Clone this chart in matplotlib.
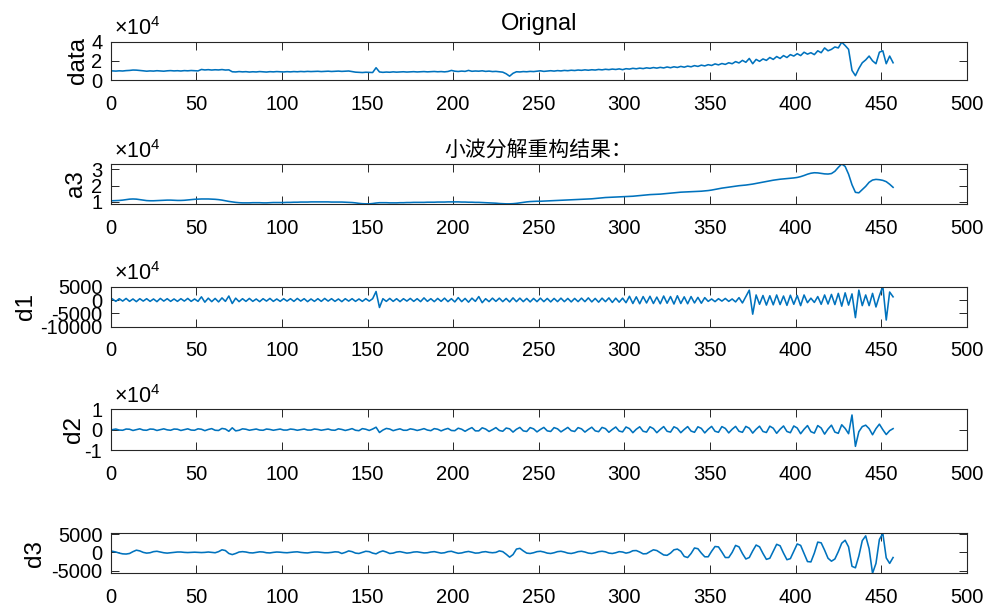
import numpy as np
import matplotlib
matplotlib.use("Agg")
import matplotlib.pyplot as plt

plt.rcParams['font.family'] = ['Liberation Sans', 'Noto Sans CJK SC', 'DejaVu Sans']
plt.rcParams['axes.unicode_minus'] = False
plt.rcParams['mathtext.default'] = 'regular'

# sample positions (every second sample of the 457-point signal)
sample_idx = list(range(1, 458, 2))

# original signal, units of 1e4
data_e4 = [
    0.95, 0.93, 0.96, 0.94, 0.98, 1.00, 1.04, 1.03, 1.00, 0.96,
    0.92, 0.95, 0.93, 0.97, 0.94, 0.92, 0.96, 0.98, 0.95, 0.97,
    0.94, 0.98, 0.96, 0.99, 0.97, 0.95, 1.10, 1.05, 1.08, 1.04,
    1.07, 1.05, 1.09, 1.04, 1.06, 0.86, 0.84, 0.88, 0.85, 0.87,
    0.83, 0.86, 0.84, 0.88, 0.85, 0.83, 0.87, 0.85, 0.88, 0.86,
    0.84, 0.87, 0.85, 0.88, 0.86, 0.89, 0.87, 0.90, 0.88, 0.89,
    0.91, 0.88, 0.90, 0.92, 0.89, 0.91, 0.93, 0.90, 0.92, 0.94,
    0.88, 0.82, 0.80, 0.78, 0.81, 0.79, 0.78, 1.28, 0.84, 0.80,
    0.83, 0.81, 0.85, 0.82, 0.84, 0.86, 0.83, 0.85, 0.87, 0.84,
    0.86, 0.88, 0.85, 0.87, 0.89, 0.86, 0.88, 0.85, 0.89, 1.00,
    0.92, 0.89, 0.93, 0.90, 1.00, 0.91, 0.94, 0.92, 0.96, 0.90,
    0.93, 0.88, 0.90, 0.86, 0.82, 0.65, 0.40, 0.70, 0.86, 0.84,
    0.88, 0.86, 0.90, 0.88, 0.92, 0.96, 0.90, 0.94, 0.97, 0.93,
    0.98, 0.95, 1.00, 0.97, 1.02, 0.99, 1.04, 1.01, 1.06, 1.02,
    1.07, 1.04, 1.10, 1.06, 1.12, 1.08, 1.14, 1.10, 1.16, 1.08,
    1.18, 1.14, 1.22, 1.17, 1.24, 1.19, 1.27, 1.22, 1.30, 1.24,
    1.32, 1.26, 1.36, 1.28, 1.38, 1.31, 1.42, 1.34, 1.45, 1.38,
    1.50, 1.42, 1.55, 1.47, 1.60, 1.52, 1.68, 1.58, 1.72, 1.63,
    1.80, 1.70, 1.92, 1.78, 2.05, 1.85, 2.25, 1.70, 2.15, 1.95,
    2.20, 2.05, 2.35, 2.15, 2.45, 2.25, 2.55, 2.35, 2.65, 2.50,
    2.75, 2.55, 2.90, 2.70, 2.85, 2.65, 3.05, 2.85, 3.35, 3.05,
    3.20, 3.45, 3.35, 3.95, 3.60, 3.20, 1.00, 0.45, 1.20, 1.80,
    2.10, 2.50, 2.00, 1.70, 2.90, 3.05, 1.70, 2.50, 1.80,
]

# approximation a3, units of 1e4
a3_e4 = [
    1.06, 1.07, 1.08, 1.10, 1.13, 1.16, 1.17, 1.16, 1.13, 1.10,
    1.07, 1.06, 1.06, 1.07, 1.08, 1.09, 1.10, 1.10, 1.09, 1.08,
    1.08, 1.09, 1.11, 1.13, 1.15, 1.16, 1.17, 1.17, 1.17, 1.16,
    1.15, 1.13, 1.10, 1.06, 1.02, 0.99, 0.96, 0.94, 0.93, 0.93,
    0.93, 0.94, 0.94, 0.94, 0.93, 0.93, 0.94, 0.95, 0.95, 0.95,
    0.95, 0.96, 0.96, 0.97, 0.97, 0.98, 0.98, 0.98, 0.99, 0.99,
    0.99, 0.99, 0.99, 0.99, 0.98, 0.98, 0.98, 0.98, 0.97, 0.96,
    0.95, 0.93, 0.90, 0.88, 0.87, 0.87, 0.89, 0.92, 0.94, 0.94,
    0.94, 0.93, 0.93, 0.93, 0.94, 0.94, 0.95, 0.95, 0.96, 0.96,
    0.96, 0.96, 0.97, 0.97, 0.97, 0.98, 0.98, 0.98, 0.99, 0.99,
    0.99, 0.99, 0.98, 0.98, 0.97, 0.97, 0.96, 0.96, 0.95, 0.94,
    0.93, 0.92, 0.91, 0.89, 0.88, 0.87, 0.87, 0.88, 0.90, 0.93,
    0.96, 0.99, 1.01, 1.02, 1.03, 1.03, 1.04, 1.05, 1.06, 1.07,
    1.08, 1.09, 1.10, 1.11, 1.12, 1.13, 1.14, 1.15, 1.16, 1.17,
    1.18, 1.20, 1.22, 1.24, 1.26, 1.27, 1.28, 1.29, 1.30, 1.31,
    1.32, 1.33, 1.34, 1.36, 1.38, 1.40, 1.42, 1.44, 1.45, 1.46,
    1.47, 1.49, 1.51, 1.53, 1.55, 1.57, 1.59, 1.60, 1.61, 1.62,
    1.63, 1.64, 1.65, 1.67, 1.69, 1.72, 1.76, 1.80, 1.84, 1.87,
    1.90, 1.93, 1.96, 1.99, 2.01, 2.03, 2.06, 2.09, 2.13, 2.17,
    2.21, 2.25, 2.29, 2.33, 2.36, 2.39, 2.41, 2.43, 2.45, 2.47,
    2.50, 2.55, 2.62, 2.70, 2.76, 2.79, 2.78, 2.75, 2.72, 2.71,
    2.74, 2.88, 3.12, 3.33, 3.18, 2.70, 2.05, 1.58, 1.55, 1.75,
    1.95, 2.20, 2.34, 2.38, 2.36, 2.32, 2.24, 2.08, 1.89,
]

# detail d1 (raw units)
d1 = [
    400, -500, 500, -400, 600, -500, 400, -600, 500, -400,
    500, -500, 400, -600, 600, -400, 500, -500, 400, -500,
    500, -400, 600, -500, 400, -500, 1200, -800, 700, -600,
    600, -700, 800, -500, 1500, -1300, 700, -600, 500, -500,
    600, -500, 400, -600, 500, -400, 600, -500, 400, -500,
    500, -400, 500, -500, 600, -400, 500, -600, 400, -500,
    500, -500, 600, -400, 500, -500, 400, -600, 500, -400,
    500, -500, 400, -500, 500, -400, 500, 3200, -2800, 500,
    -500, 600, -500, 500, -600, 500, -400, 600, -500, 500,
    -600, 800, -500, 500, -600, 600, -500, 700, -600, 500,
    -700, 900, -600, 600, -800, 700, -500, 1300, -1000, 500,
    -600, 700, -500, 700, -600, 600, -700, 800, -600, 700,
    -600, 600, -700, 600, -600, 700, -600, 600, -700, 600,
    -600, 700, -600, 600, -700, 600, -600, 700, -600, 800,
    -700, 600, -800, 700, -600, 800, -900, 700, -800, 700,
    -1000, 1400, -1300, 1200, -1400, 1300, -1100, 1400, -1300, 1100,
    -1400, 1500, -1200, 1300, -1500, 1600, -1300, 1200, -1400, 1300,
    -1100, 1000, -1200, 900, -500, 400, -600, 500, -400, 600,
    -500, 400, -700, 900, -1100, 1300, 3700, -5300, 1900, -1600,
    1700, -1900, 1600, -1800, 1900, -1700, 1500, -2000, 1800, -1600,
    1700, -2100, 1900, -1000, 700, -900, 1300, -1600, 1900, -1500,
    2100, -1700, 2500, -2300, 2700, -1900, 2300, -6600, 3700, -2100,
    1900, -2100, 2500, -2600, 1600, 5200, -7500, 3000, 1200,
]

# detail d2, units of 1e4
d2_e4 = [
    0.00, 0.03, -0.02, -0.03, 0.03, 0.02, -0.04, 0.00, 0.04, -0.02,
    -0.03, 0.03, 0.02, -0.04, 0.00, 0.04, -0.01, -0.03, 0.03, 0.02,
    -0.04, 0.00, 0.04, -0.02, -0.03, 0.04, 0.02, -0.05, 0.01, 0.05,
    -0.03, -0.04, 0.06, 0.03, -0.08, 0.09, -0.06, -0.03, 0.04, 0.02,
    -0.03, 0.00, 0.03, -0.02, -0.03, 0.03, 0.01, -0.03, 0.00, 0.03,
    -0.02, -0.02, 0.03, 0.01, -0.03, 0.00, 0.03, -0.02, -0.02, 0.03,
    0.01, -0.03, 0.00, 0.03, -0.02, -0.03, 0.04, 0.01, -0.04, 0.00,
    0.05, -0.03, -0.05, 0.05, 0.02, -0.04, 0.03, 0.12, -0.14, -0.02,
    0.06, 0.03, -0.05, 0.00, 0.04, -0.03, -0.03, 0.04, 0.01, -0.04,
    0.00, 0.05, -0.02, -0.05, 0.05, 0.02, -0.06, 0.01, 0.06, -0.04,
    -0.05, 0.07, 0.02, -0.08, 0.02, 0.10, -0.06, -0.06, 0.09, 0.03,
    -0.09, 0.00, 0.10, -0.04, -0.08, 0.08, 0.04, -0.12, 0.02, 0.11,
    -0.06, -0.09, 0.10, 0.04, -0.11, 0.01, 0.11, -0.06, -0.09, 0.10,
    0.04, -0.11, 0.00, 0.11, -0.05, -0.09, 0.10, 0.04, -0.12, 0.01,
    0.12, -0.06, -0.10, 0.11, 0.05, -0.13, 0.01, 0.13, -0.07, -0.11,
    0.13, 0.05, -0.15, 0.02, 0.14, -0.08, -0.12, 0.14, 0.05, -0.15,
    0.01, 0.15, -0.08, -0.12, 0.14, 0.06, -0.15, 0.01, 0.15, -0.07,
    -0.13, 0.14, 0.06, -0.16, 0.02, 0.16, -0.08, -0.13, 0.15, 0.06,
    -0.16, 0.02, 0.16, -0.08, -0.13, 0.16, 0.07, -0.17, 0.02, 0.17,
    -0.09, -0.14, 0.17, 0.07, -0.18, 0.02, 0.18, -0.09, -0.15, 0.18,
    0.08, -0.20, 0.02, 0.20, -0.10, -0.17, 0.20, 0.08, -0.22, 0.03,
    0.22, -0.12, -0.18, 0.24, 0.06, -0.20, 0.72, -0.82, -0.10, 0.15,
    0.22, 0.05, -0.25, 0.05, 0.27, 0.00, -0.24, -0.05, 0.05,
]

# detail d3 (raw units)
d3 = [
    300, 100, -200, -400, -450, -300, 200, 600, 400, 0,
    -200, -100, 200, 300, 100, -100, -200, -100, 0, 100,
    100, 0, -50, 0, 50, 0, -50, 0, 100, 0,
    -100, 200, 700, 500, -300, -600, -300, 100, 200, 100,
    -100, -150, 0, 150, 100, -100, -150, 0, 100, 50,
    -50, -100, 0, 100, 150, 0, -100, -150, 0, 100,
    100, 0, -100, -100, 0, 150, 100, -300, 0, 400,
    200, -200, -300, 0, 300, 200, -200, -400, 100, 400,
    100, -300, -200, 100, 200, 0, -200, -100, 100, 150,
    0, -150, -100, 100, 200, 0, -200, -100, 200, 300,
    0, -250, -150, 100, 250, 50, -200, -150, 100, 200,
    0, -100, 0, 400, 200, -500, -1300, -600, 900, 1100,
    400, -200, -300, -100, 200, 300, 100, -200, -300, -100,
    200, 300, 100, -200, -300, -100, 200, 300, 100, -200,
    -300, -100, 200, 300, 150, -200, -300, -100, 200, 100,
    -200, 0, 450, 500, 100, -400, -350, 200, 700, 500,
    -100, -700, -800, -200, 700, 900, 300, -1100, -1400, -300,
    1200, 1000, -200, -1200, -1200, 300, 1600, 1500, 100, -1400,
    -1400, 0, 1900, 1500, -300, -1800, -1400, 400, 2000, 1500,
    -300, -1900, -1600, 300, 2200, 1800, -200, -2000, -1700, 300,
    2300, 1900, -300, -2500, -2600, -200, 2800, 2600, 600, -1600,
    -2400, -1800, 200, 2500, 3300, 1500, -3800, -4200, -1000, 3200,
    4500, 1000, -5700, -3000, 3500, 5200, -1500, -3000, -1400,
]

x_ticks = list(range(0, 501, 50))
ylabels = ['data', 'a3', 'd1', 'd2', 'd3']
ylims = [(0, 4), (0.86, 3.33), (-10000, 5000), (-1, 1), (-5700, 5200)]
yticks = [[0, 2, 4], [1, 2, 3], [-10000, -5000, 0, 5000], [-1, 0, 1], [-5000, 0, 5000]]
show_exp = [True, True, True, True, False]
series = [data_e4, a3_e4, d1, d2_e4, d3]

line_color = '#0072BD'
ax_color = '#262626'

fig = plt.figure(figsize=(9.9, 6.07), dpi=100)
W, H = 990.0, 607.0
left_px, right_px = 110.7, 966.7
tops_px = [41.7, 164.0, 286.7, 409.3, 533.3]
bots_px = [80.0, 204.0, 326.7, 450.0, 573.3]
ylabel_cx = [78, 76, 26, 74, 35]

axes = []
for i in range(5):
    ax = fig.add_axes([left_px / W, 1 - bots_px[i] / H,
                       (right_px - left_px) / W, (bots_px[i] - tops_px[i]) / H])
    ax.plot(sample_idx, series[i], color=line_color, lw=1.15)
    ax.set_xlim(0, 500)
    ax.set_ylim(*ylims[i])
    ax.set_xticks(x_ticks)
    ax.set_yticks(yticks[i])
    ax.set_yticklabels([str(v) for v in yticks[i]])
    ax.tick_params(direction='in', length=6, width=0.7, top=True, right=True,
                   colors=ax_color, labelcolor='black', labelsize=14.5)
    ax.tick_params(axis='x', pad=10.5)
    ax.tick_params(axis='y', pad=6)
    for s in ax.spines.values():
        s.set_color(ax_color)
        s.set_linewidth(0.8)
    ax.set_ylabel(ylabels[i], fontsize=17.5, color='black')
    ax.yaxis.label.set_va('center')
    ax.yaxis.set_label_coords((ylabel_cx[i] - left_px) / (right_px - left_px), 0.5)
    if show_exp[i]:
        ax.annotate('×10$^{4}$', xy=(0, 1), xycoords='axes fraction',
                    xytext=(2.5, 4.5), textcoords='offset points',
                    ha='left', va='baseline', fontsize=15.5, color='black')
    axes.append(ax)

axes[0].set_title('Orignal', fontsize=17, pad=8.4)
axes[1].set_title('小波分解重构结果：', fontsize=15, pad=5,
                  family=['Noto Sans CJK SC', 'DejaVu Sans'])

fig.savefig('out.png', dpi=100)
